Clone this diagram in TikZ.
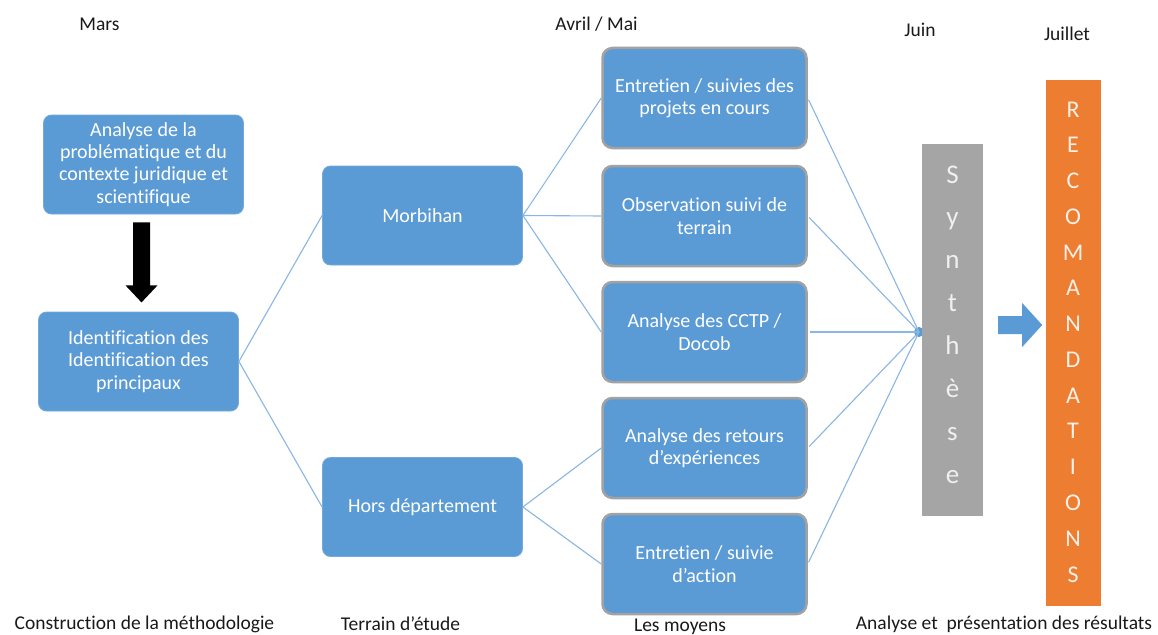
\documentclass[tikz,border=0pt]{standalone}
\usepackage{fontspec}
\setmainfont{Carlito}[Ligatures=NoCommon]
\usetikzlibrary{calc}

\definecolor{boxblue}{HTML}{5B9BD5}
\definecolor{linkblue}{HTML}{8AB6E4}
\definecolor{synthgray}{HTML}{A5A5A5}
\definecolor{synthtext}{HTML}{F0F0F0}
\definecolor{recorange}{HTML}{ED7D31}
\definecolor{recotext}{HTML}{FDF0E8}
\definecolor{rimgray}{HTML}{A2A2A2}

\begin{document}
\begin{tikzpicture}[x=1pt,y=1pt,
  boxtext/.style={text=white, align=center, font=\fontsize{20}{22.3}\selectfont},
  stagebox/.style={boxtext, rectangle, rounded corners=8pt, fill=boxblue,
    draw=boxblue!85!white, line width=0.8pt, inner sep=0pt,
    minimum width=200pt, minimum height=99pt},
  meansbox/.style={boxtext, rectangle, rounded corners=10pt, fill=boxblue,
    draw=rimgray, line width=2.5pt, inner sep=0pt,
    minimum width=204pt, minimum height=100pt},
  link/.style={draw=linkblue, line width=1.1pt},
  caption/.style={anchor=base, inner sep=0pt, text=black!90,
    font=\fontsize{19.5}{22}\selectfont},
  synthletter/.style={anchor=base, inner sep=0pt, text=synthtext,
    font=\fontsize{27}{30}\selectfont},
  recoletter/.style={anchor=base, inner sep=0pt, text=recotext,
    font=\fontsize{24}{28}\selectfont},
  tallbar/.style={rectangle, inner sep=0pt}
]
\useasboundingbox (0,0) rectangle (1158,-634);
\fill[white] (0,0) rectangle (1158,-634);

% period headings
\node[caption] (mars)    at (99.5,-31)  {Mars};
\node[caption] (avril)   at (596.5,-31) {Avril / Mai};
\node[caption] (juin)    at (920,-37)   {Juin};
\node[caption] (juillet) at (1067,-41)  {Juillet};

% phase captions along the bottom
\node[caption] (methodo)   at (144.5,-629) {Construction de la méthodologie};
\node[caption] (terrain)   at (400.5,-630) {Terrain d’étude};
\node[caption] (moyens)    at (680,-631)   {Les moyens};
\node[caption] (resultats) at (1004,-629)  {Analyse et~ présentation des résultats};

% methodology
\node[stagebox] (analyse) at (143.5,-164.5)
  {Analyse de la\\problématique et du\\contexte juridique et\\scientifique};
\node[stagebox] (ident) at (138.5,-361.5)
  {Identification des\\Identification des\\principaux};

% study areas
\node[stagebox] (morb) at (422.5,-215.5) {Morbihan};
\node[stagebox] (hors) at (422.5,-507)   {Hors département};

% means
\node[meansbox] (m1) at (704.5,-98)  {Entretien / suivies des\\projets en cours};
\node[meansbox] (m2) at (704.5,-216) {Observation suivi de\\terrain};
\node[meansbox] (m3) at (704.5,-332) {Analyse des CCTP /\\Docob};
\node[meansbox] (m4) at (704.5,-448) {Analyse des retours\\d’expériences};
\node[meansbox] (m5) at (704.5,-564) {Entretien / suivie\\d’action};

% block arrow between the two methodology steps
\fill[black] ($(analyse.south)+(-10.5,-8)$) -- ++(17,0) -- ++(0,-63)
  -- ++(7.5,0) -- ++(-16,-17) -- ++(-16,17) -- ++(7.5,0) -- cycle;

% tree connectors
\draw[link] (ident.east) -- (morb.west);
\draw[link] (ident.east) -- (hors.west);
\draw[link] (morb.east) -- (m1.west);
\draw[link] (morb.east) -- (m2.west);
\draw[link] (morb.east) -- (m3.west);
\draw[link] (hors.east) -- (m4.west);
\draw[link] (hors.east) -- (m5.west);

% convergence towards the synthesis
\node[circle, fill=boxblue, inner sep=0pt, minimum size=10pt] (hub) at (919,-332) {};
\foreach \m in {m1,m2,m3,m4,m5}
  \draw[link, shorten <=2pt] (\m.east) -- (hub.center);

% synthesis bar
\node[tallbar, fill=synthgray, minimum width=61pt, minimum height=372pt] (syn) at (952.5,-330) {};
\foreach \ch [count=\i from 0] in {S,y,n,t,h,è,s,e}
  \node[synthletter] (syn-\i) at (952.5,{-183-42.86*\i}) {\ch};

% arrow to the recommendations
\fill[boxblue] ($(syn.east)+(15,14)$) -- ++(24,0) -- ++(0,13) -- ++(20,-22)
  -- ++(-20,-22) -- ++(0,13) -- ++(-24,0) -- cycle;

% recommendations bar
\node[tallbar, fill=recorange, minimum width=55pt, minimum height=526pt] (reco) at (1073.5,-343) {};
\foreach \ch [count=\i from 0] in {R,E,C,O,M,A,N,D,A,T,I,O,N,S}
  \node[recoletter] (rec-\i) at (1073,{-117-35.77*\i}) {\ch};
\end{tikzpicture}
\end{document}
